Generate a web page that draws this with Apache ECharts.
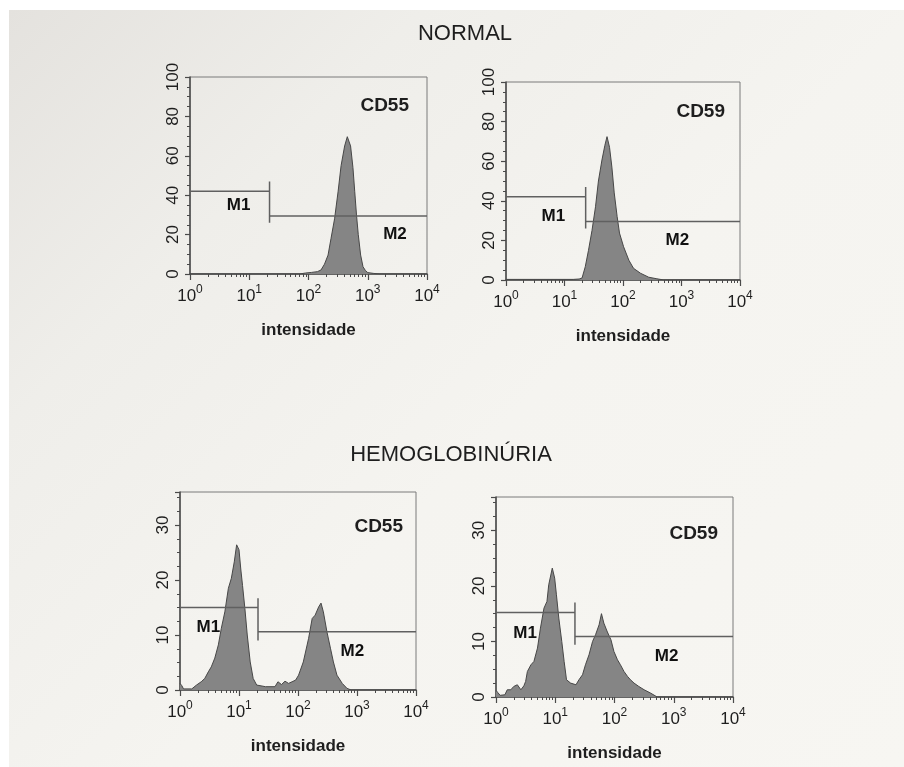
<!DOCTYPE html>
<html>
<head>
<meta charset="utf-8">
<script src="https://cdn.jsdelivr.net/npm/echarts@6/dist/echarts.min.js"></script>
<style>
  html, body { margin: 0; padding: 0; background: #ffffff; }
  #paper { position: absolute; left: 9px; top: 10px; width: 895px; height: 757px;
    background: linear-gradient(135deg, #e4e2de 0%, #efeeea 25%, #f5f4f0 55%, #f7f6f2 100%); }
  #chart { position: absolute; left: 0; top: 0; width: 904px; height: 767px; }
</style>
</head>
<body>
<div id="paper"></div>
<div id="chart"></div>
<script>
// ---------- DATA (log10 intensity channel, event count) ----------
const xTickExponents = [0, 1, 2, 3, 4];

// NORMAL - CD55
const normalCD55Log   = [0, 1.85, 1.95, 2.05, 2.15, 2.21, 2.27, 2.33, 2.38, 2.44, 2.50, 2.55, 2.61, 2.655, 2.71, 2.75, 2.78, 2.81, 2.84, 2.88, 2.92, 2.96, 3.0, 3.1, 3.2, 4];
const normalCD55Count = [0, 0, 0.5, 0.8, 1.2, 2, 5, 9.6, 18, 28, 42, 55, 65, 69.7, 65, 54, 42, 30, 20, 9.6, 3.7, 1.8, 0.7, 0.3, 0, 0];

// NORMAL - CD59
const normalCD59Log   = [0, 1.15, 1.25, 1.30, 1.355, 1.41, 1.47, 1.53, 1.58, 1.64, 1.69, 1.727, 1.77, 1.81, 1.85, 1.90, 1.94, 2.01, 2.10, 2.18, 2.30, 2.44, 2.58, 2.7, 4];
const normalCD59Count = [0.3, 0.3, 0.5, 1, 6.7, 15, 25, 37, 50, 60.6, 68, 72.4, 67, 57, 44, 32, 23.7, 16.8, 10, 5.9, 3.4, 1.4, 0.6, 0, 0];

// HEMOGLOBINURIA - CD55
const pnhCD55Log   = [0, 0.03, 0.06, 0.2, 0.28, 0.36, 0.42, 0.48, 0.53, 0.59, 0.65, 0.70, 0.76, 0.82, 0.87, 0.92, 0.96, 1.0, 1.03, 1.06, 1.10, 1.14, 1.19, 1.24, 1.30, 1.45, 1.61, 1.66, 1.72, 1.78, 1.84, 1.90, 1.96, 2.01, 2.09, 2.18, 2.24, 2.29, 2.35, 2.39, 2.43, 2.49, 2.55, 2.60, 2.66, 2.75, 2.83, 2.9, 4];
const pnhCD55Count = [1.2, 0.8, 0.2, 0.2, 0.9, 1.5, 2.1, 3.3, 4.2, 5.8, 8.2, 11.2, 14.2, 18.5, 20.3, 23.3, 26.4, 25.5, 22, 19, 14.8, 10, 5.1, 2.1, 0.9, 0.6, 0.6, 1.5, 1.0, 1.6, 1.2, 1.5, 1.8, 2.7, 5.1, 9.4, 13, 13.6, 15.1, 15.8, 14.2, 10.6, 7.6, 5.1, 2.7, 1.2, 0.3, 0, 0];

// HEMOGLOBINURIA - CD59
const pnhCD59Log   = [0, 0.03, 0.07, 0.15, 0.19, 0.25, 0.30, 0.36, 0.42, 0.47, 0.50, 0.53, 0.59, 0.64, 0.70, 0.75, 0.81, 0.86, 0.89, 0.95, 0.99, 1.02, 1.06, 1.11, 1.15, 1.19, 1.26, 1.35, 1.40, 1.46, 1.51, 1.57, 1.63, 1.68, 1.74, 1.78, 1.82, 1.88, 1.94, 1.99, 2.05, 2.10, 2.16, 2.22, 2.27, 2.33, 2.41, 2.50, 2.61, 2.72, 4];
const pnhCD59Count = [1.2, 0.8, 0.3, 0.4, 1.3, 1.3, 1.9, 2.2, 1.3, 2.0, 2.8, 4.6, 5.8, 6.4, 8.8, 12.4, 16, 17.2, 20.2, 23.2, 21.4, 18.4, 14.2, 10, 6.4, 3.1, 2.5, 2.2, 3.1, 4, 5.8, 7.6, 10, 11.2, 13, 15, 13.3, 11.7, 10.3, 8.2, 6.7, 5.8, 4.6, 3.7, 3.1, 2.5, 1.9, 1.3, 0.7, 0, 0];

// Gates: [split intensity, M1 level, M2 level, bar low, bar high]
const normalCD55Gate = [22, 42, 29.5, 26, 47];
const normalCD59Gate = [23, 42, 29.5, 26, 47];
const pnhCD55Gate    = [21, 15, 10.6, 9, 16.7];
const pnhCD59Gate    = [21.5, 15.2, 10.9, 9.4, 17];

// Gate label anchors: [log10 x, count]
const normalCD55Labels = [[0.82, 35], [3.46, 20.3]];
const normalCD59Labels = [[0.81, 32], [2.93, 20.2]];
const pnhCD55Labels    = [[0.48, 11.4], [2.92, 7.1]];
const pnhCD59Labels    = [[0.49, 11.5], [2.88, 7.4]];

const panelMarkers = ['CD55', 'CD59', 'CD55', 'CD59'];
const yMax = [100, 100, 36, 36];
const yInterval = [20, 20, 10, 10];
const sectionTitles = ['NORMAL', 'HEMOGLOBINÚRIA'];

// ---------- LAYOUT / STYLE ----------
const grids = [
  { left: 190, top: 77, width: 237, height: 197 },
  { left: 506, top: 82, width: 234, height: 198 },
  { left: 180, top: 492, width: 236, height: 198 },
  { left: 496, top: 497, width: 237, height: 200 }
];
const markerPos = [
  { x: 409, y: 96 }, { x: 725, y: 102 }, { x: 403, y: 517 }, { x: 718, y: 524 }
];

const FONT = '"Liberation Sans", Arial, sans-serif';
const TXT = '#1e1e1e';
const AX = '#4a4a4a';

function pts(logs, counts) { return logs.map((d, i) => [Math.pow(10, d), counts[i]]); }

const hist = [
  [normalCD55Log, normalCD55Count],
  [normalCD59Log, normalCD59Count],
  [pnhCD55Log, pnhCD55Count],
  [pnhCD59Log, pnhCD59Count]
];
const gates = [normalCD55Gate, normalCD59Gate, pnhCD55Gate, pnhCD59Gate];
const gateLabels = [normalCD55Labels, normalCD59Labels, pnhCD55Labels, pnhCD59Labels];

const xMin = Math.pow(10, xTickExponents[0]);
const xMax = Math.pow(10, xTickExponents[xTickExponents.length - 1]);

const xAxes = [], yAxes = [], series = [];
grids.forEach((g, i) => {
  xAxes.push({
    type: 'log', logBase: 10, gridIndex: i, min: xMin, max: xMax, splitNumber: 4,
    name: 'intensidade', nameLocation: 'middle', nameGap: 48,
    nameTextStyle: { fontFamily: FONT, fontSize: 17, fontWeight: 'bold', color: TXT },
    axisLine: { show: true, onZero: false, lineStyle: { color: AX, width: 1.5 } },
    axisTick: { show: true, inside: false, length: 6, lineStyle: { color: AX, width: 1.2 } },
    minorTick: { show: true, splitNumber: 9, length: 3, lineStyle: { color: AX, width: 1 } },
    splitLine: { show: false },
    axisLabel: {
      margin: 10, color: TXT, fontFamily: FONT,
      formatter: v => '{b|10}{s|' + Math.round(Math.log10(v)) + '}',
      rich: {
        b: { fontFamily: FONT, fontSize: 17, lineHeight: 24, color: TXT },
        s: { fontFamily: FONT, fontSize: 12, lineHeight: 12, verticalAlign: 'top', color: TXT }
      }
    }
  });
  yAxes.push({
    type: 'value', gridIndex: i, min: 0, max: yMax[i], interval: yInterval[i],
    axisLine: { show: true, lineStyle: { color: AX, width: 1.5 } },
    axisTick: { show: true, length: 5, lineStyle: { color: AX, width: 1.2 } },
    minorTick: { show: true, splitNumber: 4, length: 3, lineStyle: { color: AX, width: 1 } },
    splitLine: { show: false },
    axisLabel: { rotate: 90, margin: 8, fontSize: 17, fontFamily: FONT, color: TXT,
      showMaxLabel: yMax[i] % yInterval[i] === 0 }
  });

  series.push({
    type: 'line', xAxisIndex: i, yAxisIndex: i, data: pts(hist[i][0], hist[i][1]),
    symbol: 'none', z: 2, silent: true,
    lineStyle: { color: '#474747', width: 1 },
    areaStyle: { color: '#858585', opacity: 1 }
  });

  const gt = gates[i];
  series.push({
    type: 'line', xAxisIndex: i, yAxisIndex: i, symbol: 'none', z: 4, silent: true,
    lineStyle: { color: '#606060', width: 1.5 },
    data: [[xMin, gt[1]], [gt[0], gt[1]], [gt[0], gt[4]], [gt[0], gt[3]]]
  });
  series.push({
    type: 'line', xAxisIndex: i, yAxisIndex: i, symbol: 'none', z: 4, silent: true,
    lineStyle: { color: '#606060', width: 1.5 },
    data: [[gt[0], gt[2]], [xMax, gt[2]]]
  });

  series.push({
    type: 'scatter', xAxisIndex: i, yAxisIndex: i, symbolSize: 1, z: 5, silent: true,
    itemStyle: { color: 'rgba(0,0,0,0)', opacity: 1 },
    data: gateLabels[i].map((p, k) => ({ value: [Math.pow(10, p[0]), p[1]], name: 'M' + (k + 1) })),
    label: { show: true, position: 'inside', formatter: p => p.name, opacity: 1,
      textBorderWidth: 0, textShadowBlur: 0,
      fontFamily: FONT, fontSize: 17, fontWeight: 'bold', color: '#111111' }
  });
});

const titles = [
  { text: sectionTitles[0], left: 460, top: 18, textAlign: 'center',
    textStyle: { fontFamily: FONT, fontSize: 22, fontWeight: 'normal', color: '#1e1e1e' } },
  { text: sectionTitles[1], left: 446, top: 439, textAlign: 'center',
    textStyle: { fontFamily: FONT, fontSize: 22, fontWeight: 'normal', color: '#1e1e1e' } }
];
panelMarkers.forEach((m, i) => {
  titles.push({ text: m, left: markerPos[i].x, top: markerPos[i].y, textAlign: 'right',
    padding: 0,
    textStyle: { fontFamily: FONT, fontSize: 19, fontWeight: 'bold', color: TXT } });
});

const chart = echarts.init(document.getElementById('chart'), null, { renderer: 'canvas' });
chart.setOption({
  animation: false,
  backgroundColor: 'transparent',
  title: titles,
  grid: grids.map(g => Object.assign({ show: true, borderColor: '#7a7a7a', borderWidth: 1,
    backgroundColor: 'transparent', containLabel: false }, g)),
  xAxis: xAxes,
  yAxis: yAxes,
  series: series
});
</script>
</body>
</html>
